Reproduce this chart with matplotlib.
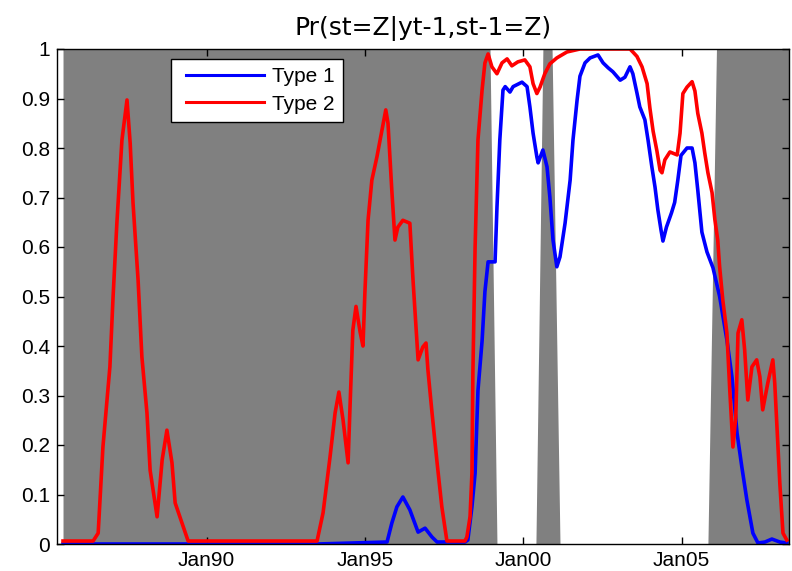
import matplotlib
matplotlib.use("Agg")
import matplotlib.pyplot as plt
from matplotlib.legend_handler import HandlerLine2D
from matplotlib.lines import Line2D
import numpy as np

# ---------------- data (decimal years) ----------------
type2_dates = [1985.47, 1986.42, 1986.58, 1986.73, 1986.95, 1987.05, 1987.17, 1987.33, 1987.49,
               1987.59, 1987.68, 1987.84, 1987.96, 1988.12, 1988.22, 1988.44, 1988.60, 1988.75,
               1988.91, 1989.01, 1989.23, 1989.42, 1993.49, 1993.68, 1993.90, 1994.06, 1994.18,
               1994.31, 1994.47, 1994.53, 1994.62, 1994.72, 1994.85, 1994.94, 1995.00, 1995.10,
               1995.22, 1995.38, 1995.54, 1995.66, 1995.73, 1995.85, 1995.95, 1996.04, 1996.20,
               1996.42, 1996.52, 1996.64, 1996.68, 1996.83, 1996.93, 1996.99, 1997.12, 1997.28,
               1997.43, 1997.59, 1998.16, 1998.22, 1998.32, 1998.38, 1998.41, 1998.48, 1998.57,
               1998.70, 1998.79, 1998.89, 1999.01, 1999.17, 1999.33, 1999.49, 1999.64, 1999.83,
               2000.05, 2000.21, 2000.31, 2000.43, 2000.53, 2000.68, 2000.84, 2001.06, 2001.38,
               2001.79, 2003.37, 2003.46, 2003.59, 2003.75, 2003.91, 2004.00, 2004.10, 2004.22,
               2004.32, 2004.38, 2004.47, 2004.63, 2004.86, 2004.95, 2005.04, 2005.17, 2005.33,
               2005.42, 2005.51, 2005.64, 2005.73, 2005.83, 2005.96, 2006.05, 2006.14, 2006.20,
               2006.30, 2006.43, 2006.52, 2006.62, 2006.71, 2006.78, 2006.90, 2006.99, 2007.09,
               2007.22, 2007.37, 2007.47, 2007.56, 2007.72, 2007.88, 2007.94, 2008.01, 2008.10,
               2008.20, 2008.32]
type2_vals = [0.006, 0.006, 0.022, 0.196, 0.358, 0.499, 0.648, 0.816, 0.897,
              0.810, 0.689, 0.533, 0.378, 0.265, 0.149, 0.055, 0.170, 0.230,
              0.164, 0.083, 0.042, 0.006, 0.006, 0.063, 0.176, 0.265, 0.307,
              0.251, 0.164, 0.276, 0.432, 0.480, 0.428, 0.400, 0.507, 0.654,
              0.735, 0.782, 0.836, 0.877, 0.850, 0.715, 0.614, 0.640, 0.654,
              0.648, 0.533, 0.412, 0.372, 0.398, 0.406, 0.352, 0.265, 0.164,
              0.075, 0.006, 0.006, 0.014, 0.055, 0.143, 0.345, 0.600, 0.816,
              0.917, 0.972, 0.990, 0.964, 0.950, 0.972, 0.980, 0.966, 0.974,
              0.978, 0.964, 0.930, 0.910, 0.923, 0.950, 0.970, 0.982, 0.994,
              1.000, 1.000, 0.994, 0.985, 0.964, 0.930, 0.880, 0.834, 0.794,
              0.755, 0.750, 0.776, 0.792, 0.786, 0.830, 0.910, 0.923, 0.934,
              0.915, 0.870, 0.830, 0.790, 0.750, 0.710, 0.655, 0.614, 0.560,
              0.493, 0.426, 0.311, 0.196, 0.257, 0.426, 0.453, 0.392, 0.291,
              0.358, 0.372, 0.338, 0.271, 0.325, 0.372, 0.325, 0.236, 0.123,
              0.022, 0.008]

type1_dates = [1985.47, 1993.50, 1995.70, 1995.85, 1996.01, 1996.20, 1996.42, 1996.68, 1996.90,
               1997.12, 1997.28, 1998.16, 1998.25, 1998.38, 1998.48, 1998.57, 1998.70, 1998.79,
               1998.89, 1999.11, 1999.17, 1999.26, 1999.36, 1999.43, 1999.58, 1999.68, 1999.96,
               2000.12, 2000.21, 2000.31, 2000.43, 2000.47, 2000.62, 2000.75, 2000.84, 2000.94,
               2001.06, 2001.16, 2001.32, 2001.48, 2001.57, 2001.70, 2001.79, 2001.95, 2002.11,
               2002.36, 2002.52, 2002.68, 2002.83, 2003.06, 2003.21, 2003.37, 2003.46, 2003.59,
               2003.68, 2003.84, 2003.94, 2004.06, 2004.16, 2004.25, 2004.35, 2004.41, 2004.52,
               2004.68, 2004.78, 2004.88, 2004.98, 2005.17, 2005.33, 2005.42, 2005.51, 2005.64,
               2005.80, 2005.99, 2006.20, 2006.43, 2006.59, 2006.75, 2006.90, 2007.06, 2007.25,
               2007.41, 2007.63, 2007.85, 2008.10, 2008.32]
type1_vals = [0.000, 0.000, 0.004, 0.042, 0.075, 0.095, 0.069, 0.024, 0.032,
              0.014, 0.004, 0.004, 0.008, 0.075, 0.143, 0.310, 0.410, 0.510,
              0.570, 0.570, 0.680, 0.816, 0.917, 0.924, 0.913, 0.924, 0.933,
              0.924, 0.883, 0.830, 0.782, 0.770, 0.796, 0.762, 0.701, 0.614,
              0.560, 0.580, 0.648, 0.735, 0.816, 0.897, 0.945, 0.972, 0.982,
              0.988, 0.972, 0.962, 0.954, 0.937, 0.943, 0.964, 0.950, 0.911,
              0.883, 0.857, 0.816, 0.762, 0.721, 0.675, 0.634, 0.612, 0.640,
              0.669, 0.690, 0.735, 0.785, 0.800, 0.800, 0.770, 0.715, 0.630,
              0.590, 0.558, 0.500, 0.412, 0.337, 0.224, 0.156, 0.089, 0.022,
              0.002, 0.004, 0.010, 0.004, 0.002]

# regime shading (1 = shaded)
shade_dates = [1985.47, 1998.95, 1999.17, 2000.40, 2000.62, 2000.91, 2001.16, 2005.83, 2006.10, 2008.39]
shade_vals = [1, 1, 0, 0, 1, 1, 0, 0, 1, 1]

xtick_years = [1990, 1995, 2000, 2005]
xtick_labels = ["Jan90", "Jan95", "Jan00", "Jan05"]
ytick_vals = [0, 0.1, 0.2, 0.3, 0.4, 0.5, 0.6, 0.7, 0.8, 0.9, 1]
ytick_labels = ["0", "0.1", "0.2", "0.3", "0.4", "0.5", "0.6", "0.7", "0.8", "0.9", "1"]

title = "Pr(st=Z|yt-1,st-1=Z)"

# ---------------- figure ----------------
plt.rcParams['font.family'] = ['Liberation Sans', 'DejaVu Sans']
fig = plt.figure(figsize=(7.92, 5.71), dpi=100)
ax = fig.add_axes([57 / 792, 1 - 544 / 571, (789 - 57) / 792, (544 - 49) / 571])

ax.fill_between(shade_dates, 0, shade_vals, color="#808080", linewidth=0, zorder=1)
ax.plot(type1_dates, type1_vals, color="#0000ff", lw=2.6, label="Type 1", zorder=3)
ax.plot(type2_dates, type2_vals, color="#ff0000", lw=2.6, label="Type 2", zorder=4)

ax.set_xlim(1985.28, 2008.39)
ax.set_ylim(0, 1)
ax.set_xticks(xtick_years)
ax.set_xticklabels(xtick_labels)
ax.set_yticks(ytick_vals)
ax.set_yticklabels(ytick_labels)
ax.tick_params(direction="in", length=5, width=1, top=True, right=True,
               labelsize=15, pad=5)
for s in ax.spines.values():
    s.set_linewidth(1)
    s.set_zorder(5)

ax.set_title(title, fontsize=18, pad=10, family=['DejaVu Sans'])

leg = ax.legend(loc="upper left", bbox_to_anchor=(0.1557, 0.9798), borderaxespad=0,
                fancybox=False, edgecolor="black", framealpha=1, fontsize=15,
                handlelength=4.07, handletextpad=0.38, labelspacing=0.4, borderpad=0.4,
                handler_map={Line2D: HandlerLine2D(xpad=0.32)})
leg.get_frame().set_linewidth(1)
for h in leg.get_lines():
    h.set_linewidth(2.2)

fig.savefig("out.png", dpi=100)
